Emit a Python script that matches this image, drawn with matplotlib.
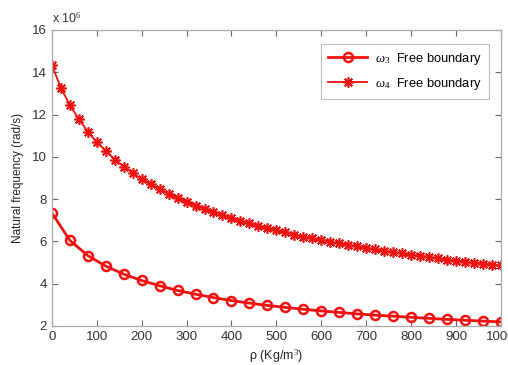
import matplotlib
matplotlib.use("Agg")
import matplotlib.pyplot as plt
import numpy as np

plt.rcParams['font.family'] = ['Liberation Sans', 'DejaVu Sans']
plt.rcParams['mathtext.fontset'] = 'custom'
plt.rcParams['mathtext.rm'] = 'Liberation Serif'
plt.rcParams['mathtext.it'] = 'Liberation Serif:italic'

rho3 = list(range(0, 1001, 40))
omega3 = [7.35, 6.05, 5.33, 4.83, 4.45, 4.15, 3.90, 3.68, 3.50, 3.34, 3.20, 3.08, 2.97,
          2.88, 2.79, 2.71, 2.64, 2.57, 2.51, 2.46, 2.41, 2.36, 2.31, 2.27, 2.23, 2.19]

rho4 = list(range(0, 1001, 20))
omega4 = [14.35, 13.27, 12.45, 11.79, 11.19, 10.69, 10.28, 9.87, 9.54, 9.24, 8.94,
          8.70, 8.47, 8.26, 8.06, 7.87, 7.69, 7.53, 7.38, 7.24, 7.10, 6.97, 6.85,
          6.73, 6.62, 6.52, 6.42, 6.32, 6.23, 6.14, 6.06, 5.98, 5.91, 5.83, 5.76,
          5.69, 5.62, 5.55, 5.49, 5.43, 5.37, 5.31, 5.25, 5.20, 5.14, 5.09, 5.04,
          4.99, 4.94, 4.90, 4.86]

xticks = [0, 100, 200, 300, 400, 500, 600, 700, 800, 900, 1000]
yticks = [2, 4, 6, 8, 10, 12, 14, 16]

fig = plt.figure(figsize=(5.08, 3.65), dpi=100)
ax = fig.add_axes([0.102, 0.107, 0.884, 0.811])

red = '#f01010'
ax.plot(rho3, omega3, color=red, lw=2.0, marker='o', ms=6.5, mfc='none', mec=red,
        mew=1.8, label=r'$\omega_3$  Free boundary')
ax.plot(rho4, omega4, color=red, lw=1.3, marker=(8, 2, 0), ms=7.5, mfc=red, mec=red,
        mew=1.2, label=r'$\omega_4$  Free boundary')

ax.set_xlim(0, 1000)
ax.set_ylim(2, 16)
ax.set_xticks(xticks)
ax.set_yticks(yticks)
ax.tick_params(direction='in', length=4, width=0.8, color='#666666',
               labelsize=9.5, top=True, right=True, labelcolor='#333333')
for s in ax.spines.values():
    s.set_color('#aaaaaa')
    s.set_linewidth(0.9)

ax.set_xlabel(r'ρ (Kg/m$^3$)', fontsize=9, color='#222222', labelpad=3)
ax.set_ylabel('Natural frequency (rad/s)', fontsize=8.5, color='#222222', labelpad=6)
ax.text(0.0, 1.015, r'x 10$^6$', transform=ax.transAxes, fontsize=9,
        color='#333333', ha='left', va='bottom')

leg = ax.legend(loc='upper right', bbox_to_anchor=(0.987, 0.975), fontsize=9.3,
                frameon=True, fancybox=False, borderpad=0.55, handlelength=3.0,
                labelspacing=0.7, handletextpad=0.6)
leg.get_frame().set_edgecolor('#aaaaaa')
leg.get_frame().set_linewidth(0.8)

fig.savefig('out.png', dpi=100)
